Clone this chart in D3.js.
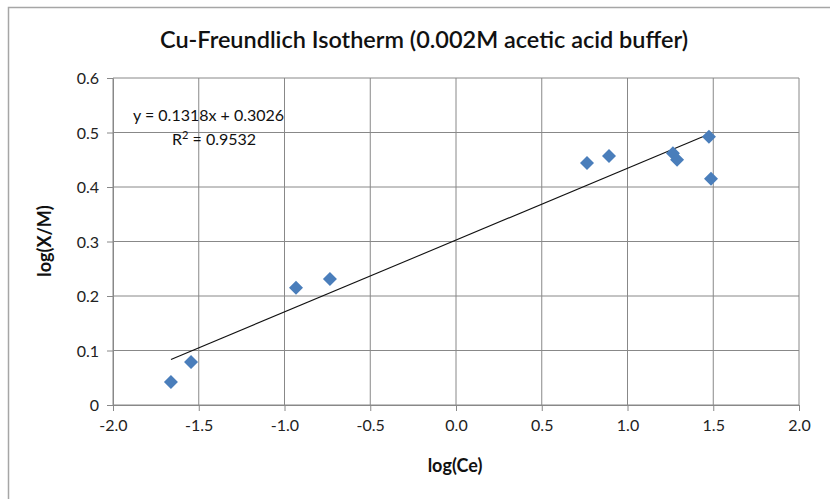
<!DOCTYPE html>
<html>
<head>
<meta charset="utf-8">
<script src="https://cdn.jsdelivr.net/npm/d3@7"></script>
<style>
  html, body { margin: 0; padding: 0; background: #fff; }
  svg { display: block; font-family: Lato, "Open Sans", sans-serif; }
</style>
</head>
<body>
<svg id="chart" width="830" height="499"></svg>
<script>
// ---- data ----
const logCe = [-1.662, -1.545, -0.933, -0.735, 0.764, 0.892, 1.265, 1.289, 1.475, 1.487];
const logXM = [0.042, 0.079, 0.215, 0.231, 0.444, 0.457, 0.462, 0.450, 0.492, 0.415];
const xTicks = [-2.0, -1.5, -1.0, -0.5, 0.0, 0.5, 1.0, 1.5, 2.0];
const yTicks = [0, 0.1, 0.2, 0.3, 0.4, 0.5, 0.6];
const trendSlope = 0.1318;
const trendIntercept = 0.3026;
const rSquared = 0.9532;
const titleText = "Cu-Freundlich Isotherm (0.002M acetic acid buffer)";
const xLabel = "log(Ce)";
const yLabel = "log(X/M)";

// ---- layout ----
const svg = d3.select("#chart");
const pLeft = 113, pRight = 799, pTop = 78, pBottom = 405;
const x = d3.scaleLinear().domain([-2, 2]).range([pLeft, pRight]);
const y = d3.scaleLinear().domain([0, 0.6]).range([pBottom, pTop]);
const gridColor = "#888";
const fmt1 = d => d3.format(".1f")(d).replace("\u2212", "-");

// outer chart border
svg.append("rect")
  .attr("x", 8.5).attr("y", 7.5).attr("width", 900).attr("height", 600)
  .attr("fill", "none").attr("stroke", "#a6a6a6").attr("stroke-width", 1.5);

// gridlines
svg.append("g").selectAll("line").data(xTicks).join("line")
  .attr("x1", d => x(d)).attr("x2", d => x(d))
  .attr("y1", pTop).attr("y2", pBottom)
  .attr("stroke", gridColor).attr("stroke-width", 1);
svg.append("g").selectAll("line").data(yTicks).join("line")
  .attr("x1", pLeft).attr("x2", pRight)
  .attr("y1", d => y(d)).attr("y2", d => y(d))
  .attr("stroke", gridColor).attr("stroke-width", 1);

// axes
const xAxis = d3.axisBottom(x).tickValues(xTicks).tickFormat(fmt1).tickSizeInner(6).tickSizeOuter(0).tickPadding(6);
const yAxis = d3.axisLeft(y).tickValues(yTicks).tickFormat(d => d === 0 ? "0" : fmt1(d)).tickSizeInner(6).tickSizeOuter(0).tickPadding(8);

const gx = svg.append("g").attr("transform", `translate(0,${pBottom})`).call(xAxis);
const gy = svg.append("g").attr("transform", `translate(${pLeft},0)`).call(yAxis);
[gx, gy].forEach(g => {
  g.select(".domain").attr("stroke", gridColor);
  g.selectAll(".tick line").attr("stroke", gridColor);
  g.selectAll(".tick text").attr("fill", "#222").style("font-size", "16px").style("font-family", "Lato, sans-serif");
});
gx.selectAll(".tick text").attr("dy", "0.9em");
gy.selectAll(".tick text").attr("dy", "0.35em");

// trendline
const xs = d3.extent(logCe);
svg.append("line")
  .attr("x1", x(xs[0])).attr("y1", y(trendSlope * xs[0] + trendIntercept))
  .attr("x2", x(xs[1])).attr("y2", y(trendSlope * xs[1] + trendIntercept))
  .attr("stroke", "#111").attr("stroke-width", 1.1);

// points
const pts = logCe.map((v, i) => [v, logXM[i]]);
svg.append("g").selectAll("path").data(pts).join("path")
  .attr("d", d3.symbol().type(d3.symbolSquare).size(98))
  .attr("transform", d => `translate(${x(d[0])},${y(d[1])}) rotate(45)`)
  .attr("fill", "#4a7ebb");

// title
svg.append("text").attr("x", 424).attr("y", 48)
  .attr("text-anchor", "middle")
  .attr("textLength", 528).attr("lengthAdjust", "spacingAndGlyphs")
  .style("font-size", "22px").style("font-weight", "600").attr("fill", "#111")
  .text(titleText);

// equation
svg.append("text").attr("x", 133).attr("y", 121)
  .style("font-size", "16px").attr("fill", "#111")
  .text(`y = ${trendSlope}x + ${trendIntercept}`);
const r2 = svg.append("text").attr("x", 172).attr("y", 145)
  .style("font-size", "16px").attr("fill", "#111");
r2.append("tspan").text("R");
r2.append("tspan").attr("dy", -6).style("font-size", "11px").text("2");
r2.append("tspan").attr("dy", 6).text(` = ${rSquared}`);

// axis titles
svg.append("text").attr("x", 455).attr("y", 472)
  .attr("text-anchor", "middle")
  .style("font-size", "18px").style("font-weight", "bold").attr("fill", "#111")
  .text(xLabel);
svg.append("text")
  .attr("transform", "translate(51,241) rotate(-90)")
  .attr("text-anchor", "middle")
  .style("font-size", "18px").style("font-weight", "bold").attr("fill", "#111")
  .text(yLabel);
</script>
</body>
</html>
